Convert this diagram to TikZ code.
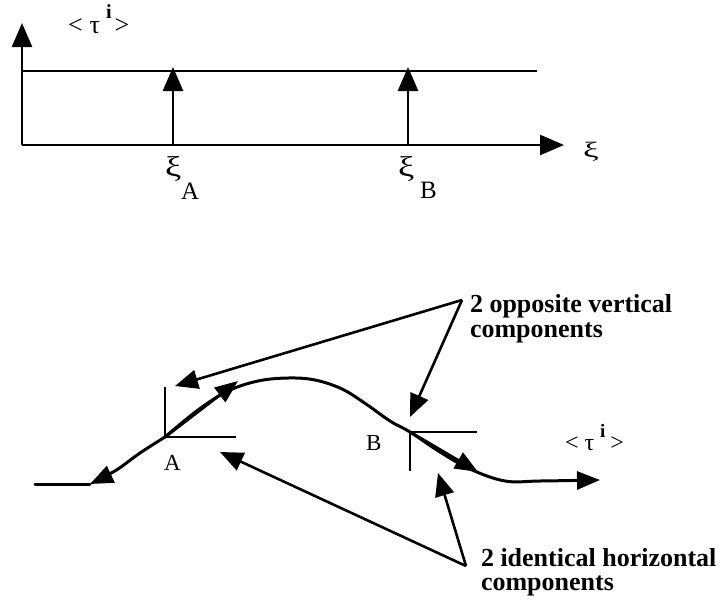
\documentclass[tikz,border=0pt]{standalone}
\usepackage{fontspec}
\setmainfont{Liberation Serif}
\usetikzlibrary{arrows.meta}
\tikzset{
  axisarrow/.style={line width=2.6pt, -{Triangle[length=24pt,width=20pt]}},
  plainline/.style={line width=2.6pt},
  ptr/.style={line width=2.6pt, -{Triangle[length=23pt,width=19pt]}},
  crv/.style={line width=3pt, line cap=round, line join=round},
  crvarrow/.style={crv, -{Triangle[length=23pt,width=18pt]}},
  tickline/.style={line width=2pt},
  lbl/.style={inner sep=0pt, outer sep=0pt, anchor=base west},
}
\newcommand{\bigxi}[2]{\scalebox{#1}[#2]{ξ}}
\begin{document}
\begin{tikzpicture}[x=1pt,y=-1pt]
\useasboundingbox (0,0) rectangle (723,603);
% ---------- top diagram ----------
\coordinate (O) at (22,145);
\coordinate (Ytip) at (22,23);
\coordinate (Xtip) at (564,145);
\coordinate (H0) at (22,71);
\coordinate (H1) at (537,71);
\coordinate (a0) at (173,145);
\coordinate (a1) at (173,67);
\coordinate (b0) at (408,145);
\coordinate (b1) at (408,67);
\draw[axisarrow] (O) -- (Ytip);
\draw[axisarrow] (O) -- (Xtip);
\draw[plainline] (H0) -- (H1);
\draw[axisarrow] (a0) -- (a1);
\draw[axisarrow] (b0) -- (b1);
\node[lbl] (tauTop) at (68,33) {\fontsize{26}{26}\selectfont <\hspace{7pt}τ\hspace{6pt}\raisebox{15pt}{\fontsize{20}{20}\selectfont\bfseries i}\hspace{3pt}>};
\node[lbl] (xiAxis) at (583,157) {\fontsize{22}{22}\selectfont\bigxi{1.6}{1.0}};
\node[lbl] (xiA) at (165,176) {\fontsize{26}{26}\selectfont\bigxi{1.4}{1.1}};
\node[lbl] (subA) at (181,199) {\fontsize{25}{25}\selectfont A};
\node[lbl] (xiB) at (398,176) {\fontsize{26}{26}\selectfont\bigxi{1.4}{1.1}};
\node[lbl] (subB) at (420,198) {\fontsize{25}{25}\selectfont B};
% ---------- bottom diagram ----------
\coordinate (A) at (165,437);
\coordinate (Atop) at (165,387);
\coordinate (Aright) at (236,437);
\coordinate (B) at (410,432);
\coordinate (Bright) at (477,432);
\coordinate (Bbot) at (410,471);
\draw[tickline] (Atop) -- (A) -- (Aright);
\draw[tickline] (Bright) -- (B) -- (Bbot);
\coordinate (L0) at (35,484);
\coordinate (L1) at (90,484);
\draw[crv] (L0) -- (L1);
\draw[crvarrow] plot[smooth, tension=0.6] coordinates {(165,437) (140,453) (118,469) (100,479) (90,484)};
\draw[crvarrow] plot[smooth, tension=0.6] coordinates {(165,437) (198,410) (228,391) (258,381) (288,378) (315,380) (342,389) (366,404) (390,421) (410,432) (440,452) (470,469) (505,481) (540,481) (600,480)};
\coordinate (Atan) at (238,381);
\coordinate (Btan) at (478,472);
\draw[crvarrow] (A) -- (Atan);
\draw[crvarrow] (B) -- (Btan);
\node[lbl] (labA) at (164,470) {\fontsize{23}{23}\selectfont A};
\node[lbl] (labB) at (366,450) {\fontsize{23}{23}\selectfont B};
\node[lbl] (tauBot) at (565,450) {\fontsize{24}{24}\selectfont <\hspace{6pt}τ\hspace{6pt}\raisebox{13pt}{\fontsize{19}{19}\selectfont\bfseries i}\hspace{5pt}>};
% pointers
\coordinate (P1) at (462,300);
\coordinate (VA) at (175,386);
\coordinate (VB) at (410,417);
\draw[ptr] (P1) -- (VA);
\draw[ptr] (P1) -- (VB);
\coordinate (P2) at (466,566);
\coordinate (HA) at (220,452);
\coordinate (HB) at (438,473);
\draw[ptr] (P2) -- (HA);
\draw[ptr] (P2) -- (HB);
\node[lbl] (labV) at (470,312) {\fontsize{26}{25}\selectfont\bfseries\vtop{\hbox{2 opposite vertical}\hbox{components}}};
\node[lbl] (labH) at (481,566) {\fontsize{26}{24}\selectfont\bfseries\vtop{\hbox{2 identical horizontal}\hbox{components}}};
\end{tikzpicture}
\end{document}
